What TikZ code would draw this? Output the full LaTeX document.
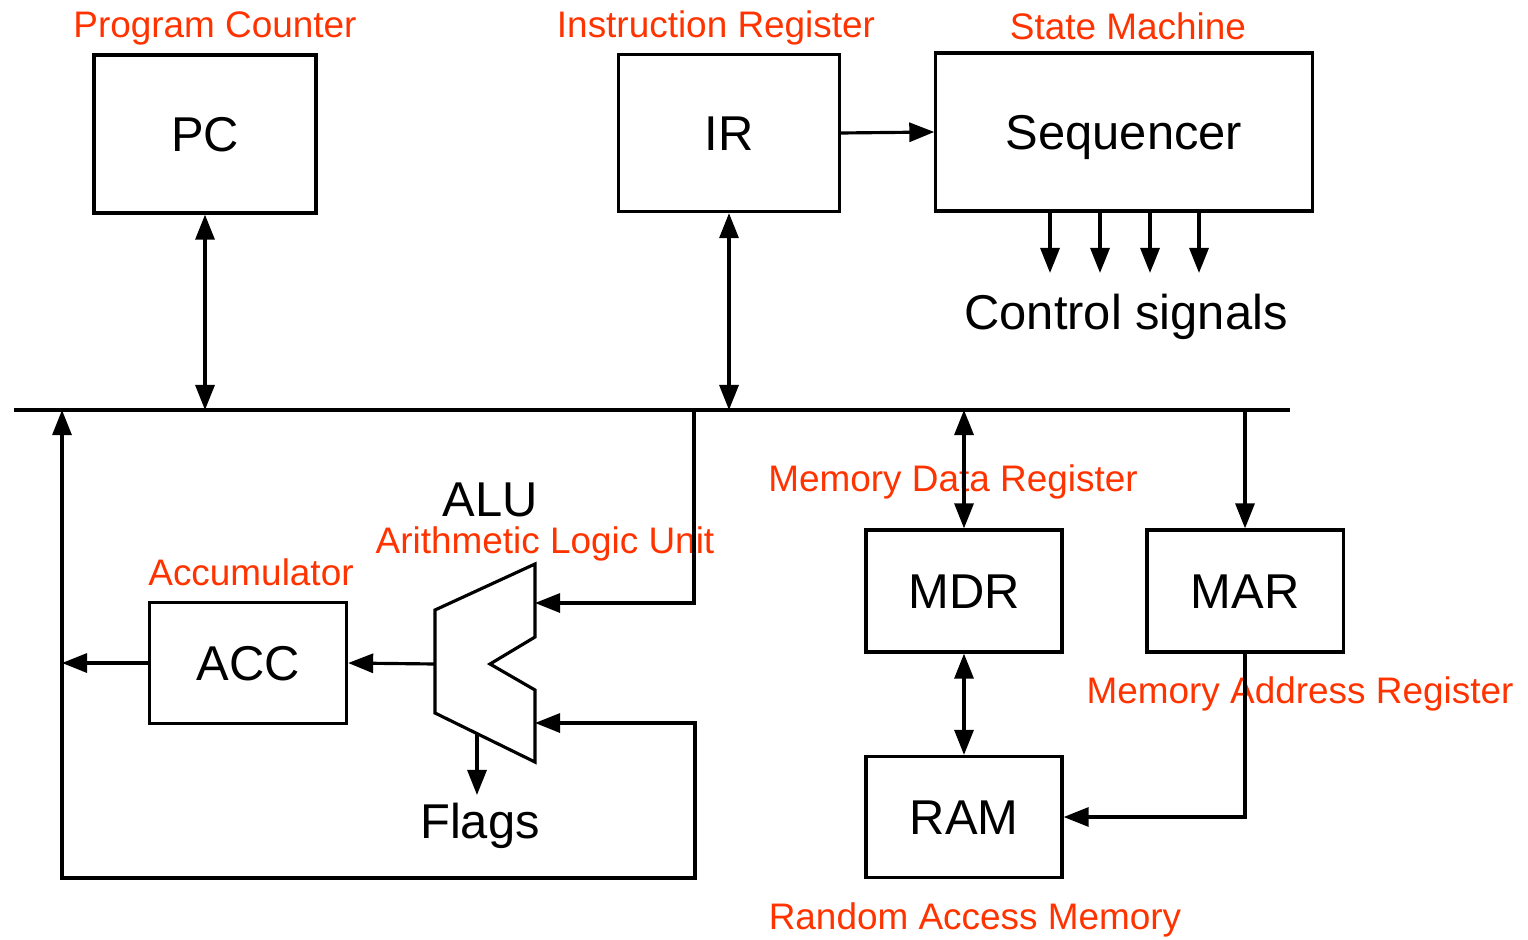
\documentclass[tikz,border=0pt]{standalone}
\usepackage{fontspec}
\setmainfont{Liberation Sans}
\usetikzlibrary{arrows.meta, positioning, calc}
\definecolor{cRed}{RGB}{255,51,0}
\tikzset{
  regbox/.style={rectangle, draw=black, line width=0.9pt, inner sep=0pt,
                 text height=10pt, text depth=0pt,
                 align=center, font=\fontsize{13.9}{16}\selectfont},
  redlabel/.style={inner sep=0pt, text=cRed, font=\fontsize{10.5}{12}\selectfont},
  blacklabel/.style={inner sep=0pt, font=\fontsize{13.9}{16}\selectfont},
  wire/.style={line width=0.9pt, color=black},
  arrow/.style={wire, -{Triangle[length=2.5mm,width=1.9mm]}},
  biarrow/.style={wire, {Triangle[length=2.5mm,width=1.9mm]}-{Triangle[length=2.5mm,width=1.9mm]}}
}

\begin{document}
\begin{tikzpicture}[x=0.01cm, y=-0.01cm]
  \useasboundingbox (0,0) rectangle (1528,940);

  % ── Top row ──
  \node[regbox, minimum width=2.22cm, minimum height=1.58cm] (pc) at (205,134) {PC};
  \node[regbox, minimum width=2.21cm, minimum height=1.57cm] (ir) at (729,133) {IR};
  \node[regbox, minimum width=3.76cm, minimum height=1.58cm] (seq) at (1124,132) {Sequencer};

  \node[redlabel] (lblpc) at (215,28) {Program Counter};
  \node[redlabel] (lblir) at (716,28) {Instruction Register};
  \node[redlabel] (lblseq) at (1128,26) {State Machine};
  \node[blacklabel] (ctrl) at (1126,317) {Control signals};

  % ── Bus ──
  \coordinate (busL) at (14,410);
  \coordinate (busR) at (1290,410);
  \coordinate (lbus) at (62,410);
  \coordinate (aluT) at (694,410);

  % ── ALU side ──
  \node[regbox, minimum width=1.97cm, minimum height=1.21cm] (acc) at (248,663) {ACC};
  \node[redlabel] (lblacc) at (251,572) {Accumulator};
  \node[blacklabel] (alulbl) at (490,500) {ALU};
  \node[redlabel] (lblalu) at (545,544) {Arithmetic Logic Unit};
  \node[blacklabel] (flags) at (480,826) {Flags};

  \coordinate (aluout) at (435,664);
  \coordinate (aluinA) at (535,603);
  \coordinate (aluinB) at (535,723);
  \coordinate (aluflag) at (477,734);
  \coordinate (flagtip) at (477,795);
  \coordinate (loopC) at (695,878);

  \draw[wire, line join=miter] (435,610) -- (535,564) -- (535,637) -- (490,664)
       -- (535,690) -- (535,762) -- (435,713) -- cycle;

  % ── Memory side ──
  \node[regbox, minimum width=1.96cm, minimum height=1.22cm] (mdr) at (964,591) {MDR};
  \node[regbox, minimum width=1.96cm, minimum height=1.22cm] (mar) at (1245,591) {MAR};
  \node[regbox, minimum width=1.96cm, minimum height=1.21cm] (ram) at (964,817) {RAM};

  \node[redlabel] (lblmdr) at (953,482) {Memory Data Register};
  \node[redlabel] (lblmar) at (1300,694) {Memory Address Register};
  \node[redlabel] (lblram) at (975,920) {Random Access Memory};

  % ── Connections ──
  \draw[wire] (busL) -- (busR);
  \draw[biarrow] (pc.south) -- (pc.south |- busL);
  \draw[biarrow] (ir.south) -- (ir.south |- busL);
  \draw[arrow] (ir.east) -- (seq.west);
  \foreach \x [count=\i] in {1050,1100,1150,1199} {
    \coordinate (cs\i) at (\x,273);
    \draw[arrow] (seq.south -| cs\i) -- (cs\i);
  }

  \draw[arrow] (aluT) |- (aluinA);
  \draw[biarrow] (lbus) |- (loopC) |- (aluinB);
  \draw[arrow] (aluout) -- (acc.east);
  \draw[arrow] (acc.west) -- (acc.west -| lbus);
  \draw[arrow] (aluflag) -- (flagtip);

  \draw[biarrow] (mdr.north |- busL) -- (mdr.north);
  \draw[arrow] (mar.north |- busL) -- (mar.north);
  \draw[biarrow] (mdr.south) -- (ram.north);
  \draw[arrow] (mar.south) |- (ram.east);

\end{tikzpicture}
\end{document}
